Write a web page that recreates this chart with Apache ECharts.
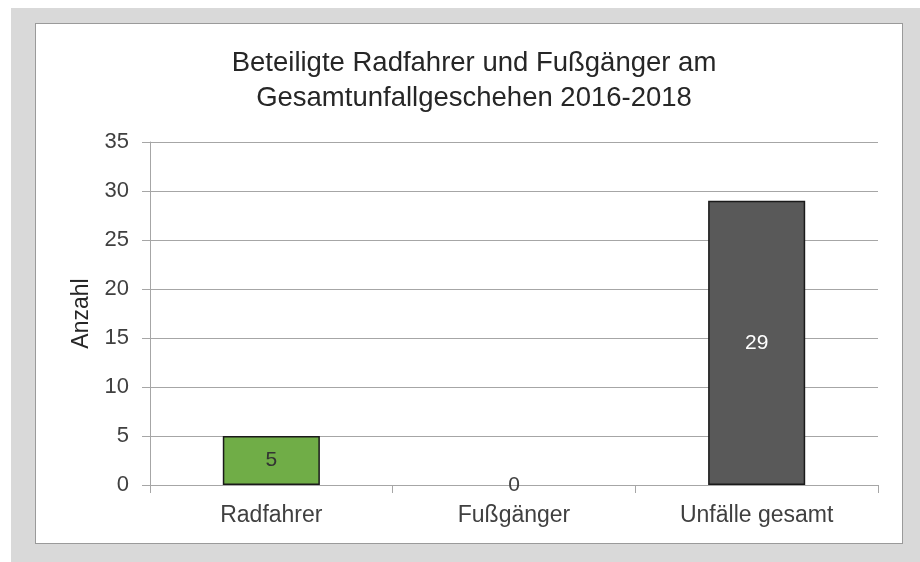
<!DOCTYPE html>
<html>
<head>
<meta charset="utf-8">
<title>Beteiligte Radfahrer und Fußgänger</title>
<script src="https://cdn.jsdelivr.net/npm/echarts@6/dist/echarts.min.js"></script>
<style>
  html, body { margin: 0; padding: 0; background: #fff; }
  #bg { position: absolute; left: 11px; top: 8px; width: 909px; height: 554px; background: #d9d9d9; }
  #panel { position: absolute; left: 35px; top: 23px; width: 866px; height: 519px; background: #fff; border: 1px solid #9a9a9a; }
  #main { position: absolute; left: 0; top: 0; width: 920px; height: 562px; }
</style>
</head>
<body>
<div id="bg"></div>
<div id="panel"></div>
<div id="main"></div>
<script>
// Daten
var categories = ['Radfahrer', 'Fußgänger', 'Unfälle gesamt'];
var values = [5, 0, 29];
var barColors = ['#70ad47', '#70ad47', '#595959'];
var labelColors = ['#333333', '#404040', '#ffffff'];

var font = 'Liberation Sans, Arial, sans-serif';

var chart = echarts.init(document.getElementById('main'));

var option = {
  animation: false,
  title: {
    text: 'Beteiligte Radfahrer und Fußgänger am\nGesamtunfallgeschehen 2016-2018',
    left: 469,
    textAlign: 'center',
    top: 41,
    textStyle: {
      fontFamily: font,
      fontSize: 27.5,
      fontWeight: 'normal',
      color: '#262626',
      lineHeight: 35
    }
  },
  grid: { left: 150, right: 42, top: 142, bottom: 77 },
  xAxis: {
    type: 'category',
    data: categories,
    axisLine: { lineStyle: { color: '#a6a6a6', width: 1 } },
    axisTick: { show: true, length: 8, lineStyle: { color: '#a6a6a6' } },
    axisLabel: { fontFamily: font, fontSize: 23, color: '#404040', margin: 19 }
  },
  yAxis: {
    type: 'value',
    min: 0,
    max: 35,
    interval: 5,
    name: 'Anzahl',
    nameLocation: 'middle',
    nameGap: 55,
    nameTextStyle: { fontFamily: font, fontSize: 23, color: '#262626' },
    axisLine: { show: true, lineStyle: { color: '#a6a6a6', width: 1 } },
    axisTick: { show: true, length: 8, lineStyle: { color: '#a6a6a6' } },
    axisLabel: { fontFamily: font, fontSize: 22, color: '#404040', margin: 21 },
    splitLine: { lineStyle: { color: '#a6a6a6', width: 1 } }
  },
  series: [{
    type: 'bar',
    barWidth: '40%',
    data: values.map(function (v, i) {
      return {
        value: v,
        itemStyle: {
          color: barColors[i],
          borderColor: '#1a1a1a',
          // ein Balken der Höhe 0 wird ohne Rand gezeichnet
          borderWidth: v === 0 ? 0 : 1.5
        },
        label: { color: labelColors[i] }
      };
    }),
    label: {
      show: true,
      position: 'inside',
      fontFamily: font,
      fontSize: 21
    }
  }]
};

chart.setOption(option);
</script>
</body>
</html>
